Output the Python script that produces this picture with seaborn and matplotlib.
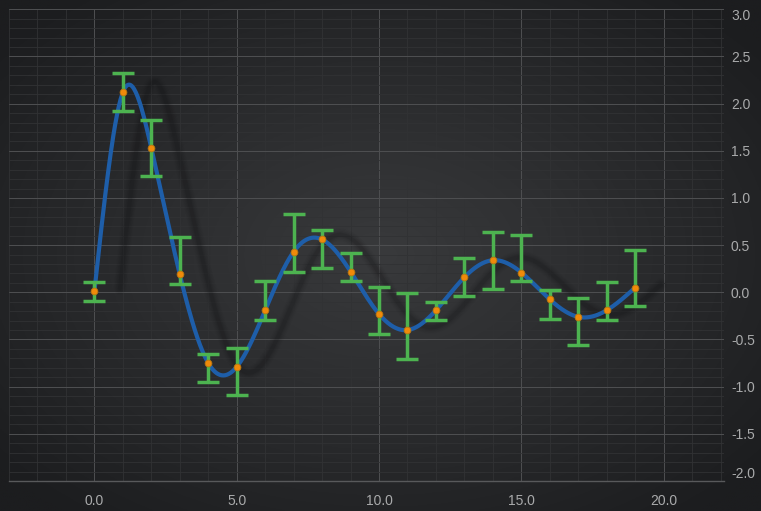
import numpy as np
import pandas as pd
import matplotlib
matplotlib.use("Agg")
import matplotlib.pyplot as plt
from matplotlib.ticker import MultipleLocator, FixedLocator
import seaborn as sns

# values
x_vals = list(range(20))
y_vals = [0.01, 2.12, 1.53, 0.19, -0.75, -0.79, -0.19, 0.43, 0.56, 0.22,
          -0.23, -0.40, -0.19, 0.16, 0.34, 0.21, -0.075, -0.26, -0.19, 0.05]
y_top = [0.11, 2.32, 1.83, 0.59, -0.65, -0.59, 0.12, 0.83, 0.66, 0.42,
         0.06, -0.01, -0.10, 0.36, 0.64, 0.61, 0.025, -0.057, 0.11, 0.45]
y_bottom = [-0.09, 1.92, 1.23, 0.085, -0.95, -1.09, -0.29, 0.22, 0.26, 0.12,
            -0.44, -0.71, -0.29, -0.04, 0.04, 0.12, -0.28, -0.56, -0.29, -0.15]
y_ticks = [-2.0, -1.5, -1.0, -0.5, 0.0, 0.5, 1.0, 1.5, 2.0, 2.5, 3.0]
x_ticks = [0.0, 5.0, 10.0, 15.0, 20.0]

line_color = "#1e5ea9"
err_color = "#4db350"
dot_color = "#f08a0a"
text_color = "#a9aaab"


def natural_spline(x, y, n=600):
	x = np.asarray(x, float)
	y = np.asarray(y, float)
	k = len(x)
	h = np.diff(x)
	A = np.zeros((k, k))
	b = np.zeros(k)
	A[0, 0] = A[-1, -1] = 1
	for i in range(1, k - 1):
		A[i, i - 1] = h[i - 1]
		A[i, i] = 2 * (h[i - 1] + h[i])
		A[i, i + 1] = h[i]
		b[i] = 6 * ((y[i + 1] - y[i]) / h[i] - (y[i] - y[i - 1]) / h[i - 1])
	M = np.linalg.solve(A, b)
	xs = np.linspace(x[0], x[-1], n)
	idx = np.clip(np.searchsorted(x, xs) - 1, 0, k - 2)
	x0, x1 = x[idx], x[idx + 1]
	hh = x1 - x0
	t0, t1 = x1 - xs, xs - x0
	ys = (M[idx] * t0 ** 3 / (6 * hh) + M[idx + 1] * t1 ** 3 / (6 * hh)
	      + (y[idx] / hh - M[idx] * hh / 6) * t0 + (y[idx + 1] / hh - M[idx + 1] * hh / 6) * t1)
	return xs, ys


df = pd.DataFrame({"x": x_vals, "y": y_vals, "top": y_top, "bottom": y_bottom})
sx, sy = natural_spline(df["x"], df["y"])
curve = pd.DataFrame({"x": sx, "y": sy})
shadow = pd.DataFrame({"x": sx + 0.9, "y": sy + 0.03})

sns.set_style("dark")
plt.rcParams["font.family"] = ["Liberation Sans", "DejaVu Sans"]

fig = plt.figure(figsize=(7.61, 5.11), dpi=100)

# radial gradient background
bg = fig.add_axes([0, 0, 1, 1], zorder=-5)
gx, gy = np.meshgrid(np.linspace(-1, 1, 400), np.linspace(-1, 1, 300))
r = np.clip(np.sqrt(gx ** 2 + gy ** 2) / 1.3, 0, 1)
c_in = np.array([0x39, 0x3a, 0x3c]) / 255
c_out = np.array([0x1c, 0x1d, 0x1f]) / 255
img = c_in[None, None, :] * (1 - r[..., None]) + c_out[None, None, :] * r[..., None]
bg.imshow(img, aspect="auto", extent=[0, 1, 0, 1])
bg.axis("off")

ax = fig.add_axes([9 / 761, 1 - 481 / 511, (724 - 9) / 761, (481 - 9.3) / 511])
ax.set_facecolor("none")

# blurred shadow line
for lw, a in [(9, 0.04), (7, 0.05), (5, 0.08), (3, 0.12)]:
	sns.lineplot(data=shadow, x="x", y="y", ax=ax, color="#0e0e10", lw=lw, alpha=a, zorder=2, sort=False)

sns.lineplot(data=curve, x="x", y="y", ax=ax, color=line_color, lw=3.0, zorder=3, sort=False)

ax.errorbar(df["x"], df["y"], yerr=[df["y"] - df["bottom"], df["top"] - df["y"]],
            fmt="none", ecolor=err_color, elinewidth=2.5, capsize=8, capthick=2.5, zorder=4)
sns.scatterplot(data=df, x="x", y="y", ax=ax, color=dot_color, s=24,
                edgecolor="#b8760f", linewidth=0.6, zorder=5)

ax.set_xlim(-3.0, 22.12)
ax.set_ylim(-2.0, 3.0)
ax.xaxis.set_major_locator(FixedLocator(x_ticks))
ax.xaxis.set_minor_locator(MultipleLocator(1))
ax.yaxis.set_major_locator(FixedLocator(y_ticks))
ax.yaxis.set_minor_locator(MultipleLocator(0.1))
ax.set_xticklabels([f"{v:.1f}" for v in x_ticks])
ax.set_yticklabels([f"{v:.1f}" for v in y_ticks])
ax.yaxis.tick_right()
ax.grid(which="major", color="#4d4e50", lw=0.75)
ax.grid(which="minor", color="#313234", lw=0.6)
ax.set_axisbelow(True)
ax.tick_params(which="both", colors="#4a4b4d", labelcolor=text_color, labelsize=10)
ax.tick_params(axis="x", which="major", length=4, pad=5)
ax.tick_params(axis="x", which="minor", length=3)
ax.tick_params(axis="y", which="major", length=0, pad=5)
ax.tick_params(axis="y", which="minor", length=0)
ylabels = ax.get_yticklabels()
ylabels[0].set_verticalalignment("bottom")
ylabels[-1].set_verticalalignment("top")
ax.set_xlabel("")
ax.set_ylabel("")
for side in ["top", "right", "left"]:
	ax.spines[side].set_visible(False)
ax.spines["bottom"].set_color("#58595b")
ax.spines["bottom"].set_linewidth(1.0)
ax.legend_ = None

fig.savefig("out.png", dpi=100)
